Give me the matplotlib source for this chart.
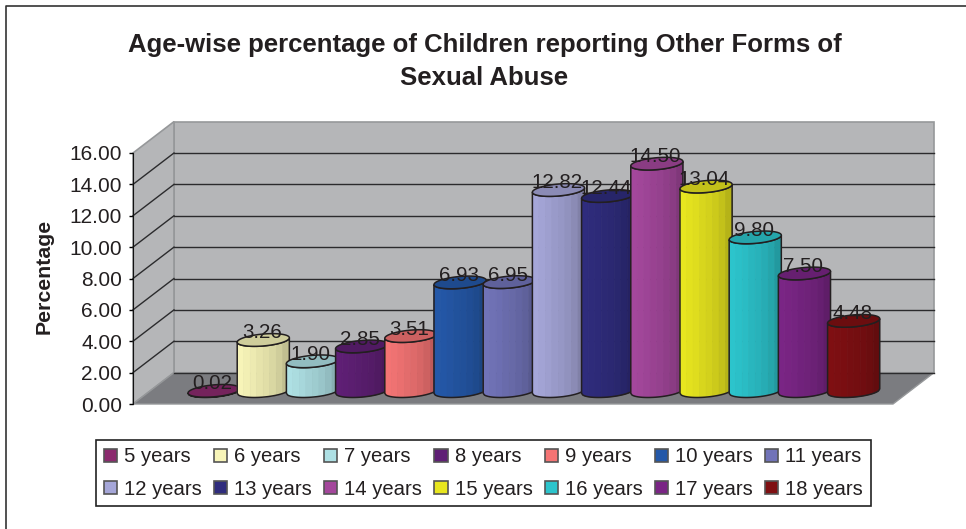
import matplotlib
matplotlib.use("Agg")
import matplotlib.pyplot as plt
from matplotlib.patches import Polygon, Patch
from matplotlib.lines import Line2D
from matplotlib.colors import to_rgb
import numpy as np

plt.rcParams['font.family'] = ['Liberation Sans', 'DejaVu Sans']

# Datos
ages = ['5 years', '6 years', '7 years', '8 years', '9 years', '10 years', '11 years',
        '12 years', '13 years', '14 years', '15 years', '16 years', '17 years', '18 years']
values = [0.02, 3.26, 1.90, 2.85, 3.51, 6.93, 6.95, 12.82, 12.44, 14.50, 13.04, 9.80, 7.50, 4.48]
colors = ['#8b2a6e', '#f7f4b8', '#aee0e4', '#5f1f75', '#f47474', '#2458a8', '#7173b8',
          '#a5a6d8', '#2f2c7d', '#a4479c', '#e8e61f', '#2cc4cc', '#7a2585', '#7f0f12']
yticks = [0, 2, 4, 6, 8, 10, 12, 14, 16]

TEXT = '#231f20'
WALL = '#b5b6b8'
FLOOR = '#7b7c80'
WALL_EDGE = '#96989a'

W, H = 966, 529
fig = plt.figure(figsize=(W / 100, H / 100), dpi=100)
# el eje coincide con el plano frontal del cubo 3D
ax = fig.add_axes([133 / W, 1 - 404 / H, 760 / W, 251 / H])
ax.patch.set_alpha(0)
ax.set_xlim(-1.118, 14.33)
ax.set_ylim(0, 16)

# profundidad del cubo, en unidades de datos
dx, dy = 0.833, 2.0
x0, x1 = ax.get_xlim()

# paredes y suelo
ax.add_patch(Polygon([(x0 + dx, dy), (x1 + dx, dy), (x1 + dx, 16 + dy), (x0 + dx, 16 + dy)],
                     fc=WALL, ec=WALL_EDGE, lw=1.2, clip_on=False, zorder=1))
ax.add_patch(Polygon([(x0, 0), (x0 + dx, dy), (x0 + dx, 16 + dy), (x0, 16)],
                     fc=WALL, ec=WALL_EDGE, lw=1.2, clip_on=False, zorder=1))
ax.add_patch(Polygon([(x0, 0), (x1, 0), (x1 + dx, dy), (x0 + dx, dy)],
                     fc=FLOOR, ec=WALL_EDGE, lw=1.0, clip_on=False, zorder=1))

# rejilla
for t in yticks[1:]:
    ax.plot([x0 + dx, x1 + dx], [t, t], color='#2b2b2d', lw=1.0, clip_on=False, zorder=2)
for t in yticks[1:-1]:
    ax.plot([x0, x0 + dx], [t, t + dy], color='#2b2b2d', lw=1.0, clip_on=False, zorder=2)

# cilindros
base = 0.82
half = 0.53
bar_b = 0.38
tilt = 0.14
shades = [1.0, 0.98, 0.96, 0.93, 0.91, 0.88, 0.84, 0.78]
theta = np.linspace(0, 2 * np.pi, 80)


def lower_edge(cx, cy, t):
    # borde delantero de la elipse inclinada
    c = 1 - 2 * t
    return cx - half * c, cy - bar_b * np.sqrt(1 - c ** 2) - tilt * c


for i, (v, col) in enumerate(zip(values, colors)):
    cx = i + half
    rgb = np.array(to_rgb(col))
    n = len(shades)
    for k in range(n):
        ts = np.linspace(k / n, (k + 1) / n, 8)
        xb, yb = lower_edge(cx, base, ts)
        xt, yt = lower_edge(cx, base + v, ts)
        ax.add_patch(Polygon(np.r_[np.c_[xb, yb], np.c_[xt, yt][::-1]],
                             fc=rgb * shades[k], ec=rgb * shades[k], lw=0.5,
                             clip_on=False, zorder=3 + i))
    # contorno y tapa
    ts = np.linspace(0, 1, 40)
    xb, yb = lower_edge(cx, base, ts)
    xt, yt = lower_edge(cx, base + v, ts)
    ax.add_patch(Polygon(np.r_[np.c_[xb, yb], np.c_[xt, yt][::-1]], fill=False,
                         ec='#231f20', lw=1.1, clip_on=False, zorder=3 + i))
    ax.add_patch(Polygon(np.c_[cx + half * np.cos(theta),
                               base + v + bar_b * np.sin(theta) + tilt * np.cos(theta)],
                         fc=rgb * 0.84, ec='#231f20', lw=1.1, clip_on=False, zorder=3 + i))

# etiquetas de valores
for i, v in enumerate(values):
    ax.text(i + 0.5, base + v + 0.45, f'{v:.2f}', ha='center', va='center', fontsize=14.8,
            color=TEXT, zorder=40, clip_on=False)

# ejes
ax.set_xticks([])
ax.set_yticks(yticks)
ax.set_yticklabels([f'{t:.2f}' for t in yticks], fontsize=15, color=TEXT)
ax.tick_params(axis='y', length=3, width=1, color='black', pad=5)
for s in ['top', 'right', 'bottom']:
    ax.spines[s].set_visible(False)
ax.spines['left'].set_color('#111111')
ax.spines['left'].set_zorder(30)

fig.text(44 / W, 1 - 276 / H, 'Percentage', rotation=90, ha='center', va='center',
         fontsize=15.3, fontweight='bold', color=TEXT)
fig.text(484.5 / W, 1 - 61.5 / H, 'Age-wise percentage of Children reporting Other Forms of\nSexual Abuse',
         ha='center', va='center', fontsize=18.5, fontweight='bold', color=TEXT, linespacing=1.45)

# leyenda: matplotlib llena por columnas
order = [j for c in range(7) for j in (c, c + 7)]
handles = [Patch(fc=colors[j], ec='#555555', lw=1.2) for j in order]
leg = fig.legend(handles, [ages[j] for j in order], ncol=7, loc='center',
                 bbox_to_anchor=(483.5 / W, 1 - 473 / H), fontsize=14.6, frameon=True,
                 fancybox=False, edgecolor='#222222', framealpha=1, labelcolor=TEXT,
                 handlelength=0.65, handleheight=0.65, handletextpad=0.35,
                 columnspacing=0.6, labelspacing=0.65, borderpad=0.36, borderaxespad=0)
leg.get_frame().set_linewidth(1.2)

# marco exterior
fig.add_artist(Line2D([6 / W, 6 / W, 1], [0, 1 - 6 / H, 1 - 6 / H], color='#333333', lw=1.2))

fig.savefig('out.png', dpi=100)
plt.close()
